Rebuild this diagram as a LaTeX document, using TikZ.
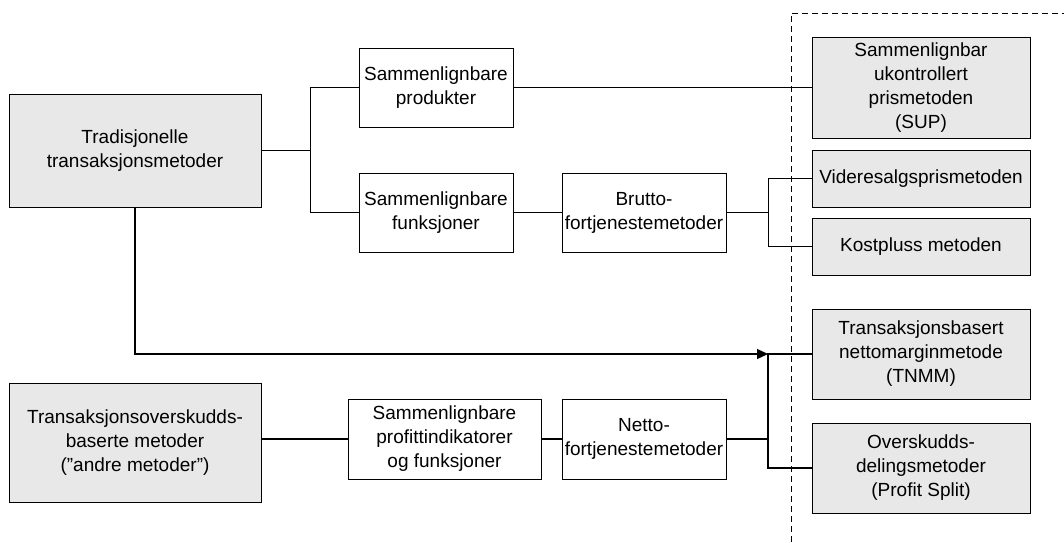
\documentclass[tikz,border=0pt]{standalone}
\usepackage{fontspec}
\setmainfont{Liberation Sans}
\usetikzlibrary{arrows.meta}
\definecolor{boxgray}{HTML}{E8E8E8}

\begin{document}
\begin{tikzpicture}[x=1pt,y=-1pt,line width=1.2pt,
  every node/.style={inner sep=0pt,align=center,font=\fontsize{19}{24}\selectfont},
  stepbox/.style={draw,fill=white,line width=1pt},
  methodbox/.style={draw,fill=boxgray,line width=1pt}]
\useasboundingbox (0,0) rectangle (1064,542);
% boxes
\node [methodbox,minimum width=252pt,minimum height=113pt] (trad) at (135,150.5) {Tradisjonelle\\transaksjonsmetoder};
\node [stepbox,minimum width=154pt,minimum height=79pt] (prod) at (436,87.5) {Sammenlignbare\\produkter};
\node [stepbox,minimum width=154pt,minimum height=79pt] (funk) at (436,212.5) {Sammenlignbare\\funksjoner};
\node [stepbox,minimum width=164pt,minimum height=79pt] (brutto) at (644,212.5) {Brutto-\\fortjenestemetoder};
\node [methodbox,minimum width=218pt,minimum height=101pt] (sup) at (921,87.5) {Sammenlignbar\\ukontrollert\\prismetoden\\(SUP)};
\node [methodbox,minimum width=218pt,minimum height=57pt] (vide) at (921,178.5) {Videresalgsprismetoden};
\node [methodbox,minimum width=218pt,minimum height=57pt] (kost) at (921,246.5) {Kostpluss metoden};
\node [methodbox,minimum width=218pt,minimum height=90pt] (tnmm) at (921,354) {Transaksjonsbasert\\nettomarginmetode\\(TNMM)};
\node [methodbox,minimum width=218pt,minimum height=90pt] (split) at (921,468) {Overskudds-\\delingsmetoder\\(Profit Split)};
\node [methodbox,minimum width=252pt,minimum height=119pt] (tos) at (135,442.5) {Transaksjonsoverskudds-\\baserte metoder\\(”andre metoder”)};
\node [stepbox,minimum width=193pt,minimum height=80pt] (profitt) at (444.5,439) {Sammenlignbare\\profittindikatorer\\og funksjoner};
\node [stepbox,minimum width=164pt,minimum height=80pt] (netto) at (644,439) {Netto-\\fortjenestemetoder};
% dashed frame
\draw [dashed,line width=1pt,dash pattern=on 6pt off 4pt] (791,542) -- (791,13) -- (1064,13);
% connectors
\draw (trad.east) -- ++(49,0) coordinate (j1);
\draw (prod.west) -| (j1) |- (funk.west);
\draw (prod.east) -- (sup.west);
\draw (funk.east) -- (brutto.west);
\draw (brutto.east) -- ++(42,0) coordinate (j2);
\draw (vide.west) -| (j2) |- (kost.west);
\coordinate (j3) at (768,354);
\draw [-{Triangle[length=11pt,width=10pt]}] (trad.south) |- (j3);
\draw (tnmm.west) -- (j3) |- (split.west);
\draw (netto.east) -- (netto.east -| j3);
\draw (profitt.west) -- (profitt.west -| tos.east);
\draw (profitt.east) -- (netto.west);
\end{tikzpicture}
\end{document}
